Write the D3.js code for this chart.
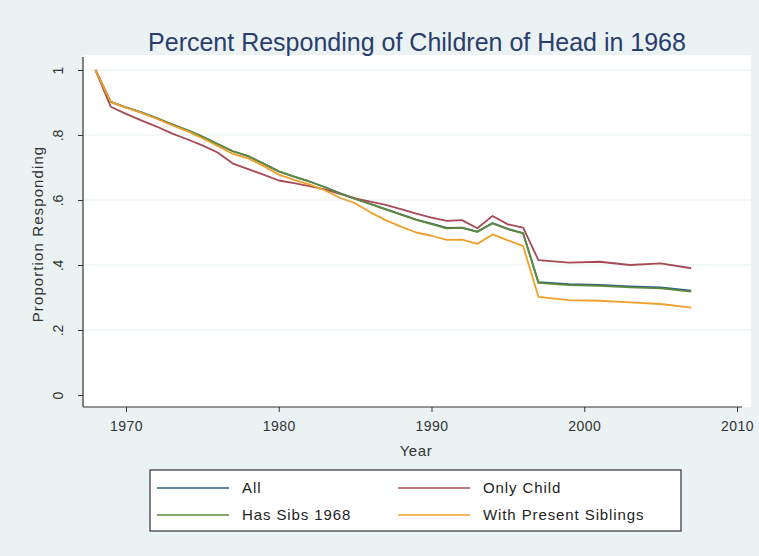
<!DOCTYPE html>
<html>
<head>
<meta charset="utf-8">
<script src="https://cdn.jsdelivr.net/npm/d3@7"></script>
<style>
  body { margin: 0; background: #eaf2f3; }
  svg { display: block; font-family: "Liberation Sans", Arial, sans-serif; }
</style>
</head>
<body>
<div id="chart"></div>
<script>
// Survey years (annual to 1997, then every other year)
const years = [1968, 1969, 1970, 1971, 1972, 1973, 1974, 1975, 1976, 1977,
  1978, 1979, 1980, 1981, 1982, 1983, 1984, 1985, 1986, 1987,
  1988, 1989, 1990, 1991, 1992, 1993, 1994, 1995, 1996, 1997,
  1999, 2001, 2003, 2005, 2007];

const allKids = [1.0, 0.902, 0.885, 0.870, 0.852, 0.833, 0.815, 0.795, 0.772, 0.750,
  0.735, 0.712, 0.688, 0.672, 0.657, 0.640, 0.621, 0.604, 0.588, 0.572,
  0.556, 0.540, 0.527, 0.514, 0.515, 0.503, 0.529, 0.511, 0.498, 0.347,
  0.341, 0.339, 0.334, 0.331, 0.321];
const onlyChild = [1.0, 0.887, 0.865, 0.845, 0.826, 0.805, 0.787, 0.768, 0.746, 0.712,
  0.695, 0.678, 0.660, 0.652, 0.643, 0.633, 0.619, 0.605, 0.595, 0.585,
  0.572, 0.558, 0.546, 0.536, 0.538, 0.513, 0.551, 0.525, 0.515, 0.415,
  0.407, 0.410, 0.400, 0.405, 0.390];
const hasSibs = [1.0, 0.902, 0.885, 0.870, 0.852, 0.833, 0.815, 0.795, 0.772, 0.750,
  0.735, 0.712, 0.688, 0.672, 0.657, 0.640, 0.620, 0.603, 0.587, 0.571,
  0.555, 0.539, 0.526, 0.513, 0.514, 0.502, 0.528, 0.510, 0.497, 0.345,
  0.338, 0.336, 0.331, 0.328, 0.318];
const withPresent = [1.0, 0.902, 0.884, 0.868, 0.850, 0.830, 0.812, 0.790, 0.766, 0.742,
  0.728, 0.705, 0.678, 0.662, 0.648, 0.630, 0.607, 0.590, 0.562, 0.538,
  0.518, 0.500, 0.490, 0.477, 0.478, 0.465, 0.494, 0.476, 0.458, 0.302,
  0.292, 0.290, 0.285, 0.280, 0.269];

const seriesNames = ["All", "Only Child", "Has Sibs 1968", "With Present Siblings"];
const seriesColors = ["#2f6283", "#a84a55", "#5f8a3a", "#f0a02a"];
const seriesValues = [allKids, onlyChild, hasSibs, withPresent];

const xTicks = [1970, 1980, 1990, 2000, 2010];
const yTicks = [0, 0.2, 0.4, 0.6, 0.8, 1];
const yTickLabels = ["0", ".2", ".4", ".6", ".8", "1"];

const width = 759, height = 556;

const svg = d3.select("#chart").append("svg")
  .attr("width", width)
  .attr("height", height);

svg.append("rect").attr("width", width).attr("height", height).attr("fill", "#eaf2f3");

// plot region
const plotLeft = 83, plotRight = 751, plotTop = 55, plotBottom = 407;

const x = d3.scaleLinear().domain([1970, 2010]).range([126, 737]);
const y = d3.scaleLinear().domain([0, 1]).range([395, 70]);

svg.append("rect")
  .attr("x", plotLeft).attr("y", plotTop)
  .attr("width", plotRight - plotLeft).attr("height", plotBottom - plotTop)
  .attr("fill", "#ffffff");

// horizontal grid
svg.append("g").selectAll("line")
  .data(yTicks.filter(d => d > 0))
  .enter().append("line")
  .attr("x1", plotLeft).attr("x2", plotRight)
  .attr("y1", d => y(d)).attr("y2", d => y(d))
  .attr("stroke", "#e6eff1").attr("stroke-width", 1.2);

// title
svg.append("text")
  .attr("x", 417).attr("y", 51)
  .attr("text-anchor", "middle")
  .attr("font-size", 25)
  .attr("fill", "#2a3d6c")
  .text("Percent Responding of Children of Head in 1968");

// lines
const line = d3.line()
  .x((d, i) => x(years[i]))
  .y(d => y(d));

svg.append("g").selectAll("path")
  .data(seriesValues)
  .enter().append("path")
  .attr("d", d => line(d))
  .attr("fill", "none")
  .attr("stroke", (d, i) => seriesColors[i])
  .attr("stroke-width", 1.8)
  .attr("stroke-linejoin", "round");

// y axis
const yAxis = d3.axisLeft(y).tickValues(yTicks).tickSize(5).tickFormat((d, i) => yTickLabels[i]);
const yg = svg.append("g").attr("transform", `translate(${plotLeft},0)`).call(yAxis);
yg.select(".domain").remove();
yg.selectAll(".tick line").attr("stroke", "#333");
yg.selectAll(".tick text")
  .attr("font-size", 14).attr("fill", "#333")
  .attr("font-family", "Liberation Sans, Arial, sans-serif")
  .attr("transform", "rotate(-90)")
  .attr("x", 0).attr("y", -25).attr("dy", "0.35em")
  .attr("text-anchor", "middle");
svg.append("line")
  .attr("x1", plotLeft).attr("x2", plotLeft)
  .attr("y1", 57).attr("y2", plotBottom)
  .attr("stroke", "#333").attr("stroke-width", 1.2);

// x axis
const xAxis = d3.axisBottom(x).tickValues(xTicks).tickSize(5).tickFormat(d3.format("d"));
const xg = svg.append("g").attr("transform", `translate(0,${plotBottom})`).call(xAxis);
xg.select(".domain").remove();
xg.selectAll(".tick line").attr("stroke", "#333");
xg.selectAll(".tick text")
  .attr("font-size", 14).attr("fill", "#333")
  .attr("font-family", "Liberation Sans, Arial, sans-serif")
  .attr("letter-spacing", 0.5)
  .attr("y", 14);
svg.append("line")
  .attr("x1", plotLeft).attr("x2", 742)
  .attr("y1", plotBottom).attr("y2", plotBottom)
  .attr("stroke", "#333").attr("stroke-width", 1.2);

// axis titles
svg.append("text")
  .attr("x", 416).attr("y", 456)
  .attr("text-anchor", "middle")
  .attr("font-size", 15).attr("fill", "#333")
  .attr("letter-spacing", 0.6)
  .text("Year");
svg.append("text")
  .attr("transform", "translate(43,234) rotate(-90)")
  .attr("text-anchor", "middle")
  .attr("font-size", 15).attr("fill", "#333")
  .attr("letter-spacing", 1.1)
  .text("Proportion Responding");

// legend
const legend = svg.append("g");
legend.append("rect")
  .attr("x", 150).attr("y", 470)
  .attr("width", 531).attr("height", 61)
  .attr("fill", "#fff").attr("stroke", "#333").attr("stroke-width", 1.2);

const legendPos = [[157, 488], [398, 488], [157, 515], [398, 515]];
const items = legend.selectAll("g.item")
  .data(seriesNames)
  .enter().append("g")
  .attr("transform", (d, i) => `translate(${legendPos[i][0]},${legendPos[i][1]})`);
items.append("line")
  .attr("x1", 0).attr("x2", 72)
  .attr("stroke", (d, i) => seriesColors[i])
  .attr("stroke-width", 1.6);
items.append("text")
  .attr("x", 85).attr("dy", "0.35em")
  .attr("font-size", 15).attr("fill", "#222")
  .attr("letter-spacing", 0.9)
  .text(d => d);
</script>
</body>
</html>
